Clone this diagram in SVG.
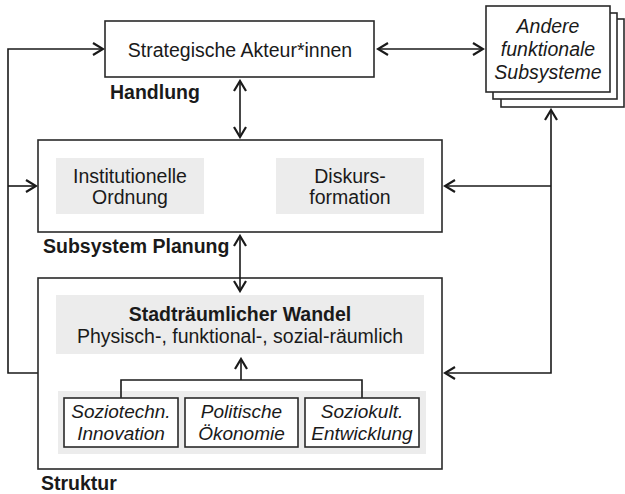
<svg xmlns="http://www.w3.org/2000/svg" width="625" height="494" viewBox="0 0 625 494">
<defs>
<style>
.box{fill:#fff;stroke:#2a2a2a;stroke-width:1.6}
.gray{fill:#ececec;stroke:none}
.t{font-family:"Liberation Sans",Arial,sans-serif;font-size:19.5px;fill:#1a1a1a}
.s{font-size:19px}
.c{text-anchor:middle}
.b{font-weight:bold}
.i{font-style:italic}
.ln{fill:none;stroke:#1a1a1a;stroke-width:1.6}
</style>
<marker id="ah" viewBox="-12 -8 14 16" refX="0" refY="0" markerWidth="14" markerHeight="16" markerUnits="userSpaceOnUse" orient="auto-start-reverse">
<path d="M -10 -6 L 0 0 L -10 6" fill="none" stroke="#1a1a1a" stroke-width="2.2"/>
</marker>
</defs>

<g id="connectors">
<path class="ln" d="M 38 373 H 8 V 49 H 103" marker-end="url(#ah)"/>
<path class="ln" d="M 8 186 H 36" marker-end="url(#ah)"/>
<path class="ln" d="M 378 49 H 483" marker-start="url(#ah)" marker-end="url(#ah)"/>
<path class="ln" d="M 240 81 V 137" marker-start="url(#ah)" marker-end="url(#ah)"/>
<path class="ln" d="M 208 186 H 272" marker-start="url(#ah)" marker-end="url(#ah)"/>
<path class="ln" d="M 551 110 V 373 H 445" marker-start="url(#ah)" marker-end="url(#ah)"/>
<path class="ln" d="M 551 186 H 445" marker-end="url(#ah)"/>
</g>

<g id="akteure">
<rect class="box" x="105" y="21" width="269" height="56"/>
<text class="t c" x="240" y="57">Strategische Akteur*innen</text>
</g>
<text class="t b" x="110" y="99">Handlung</text>

<g id="andere">
<rect class="box" x="501" y="19" width="123" height="88"/>
<rect class="box" x="493" y="13" width="124" height="86"/>
<rect class="box" x="486" y="6" width="124" height="86"/>
<text class="t c i" x="548" y="33">Andere</text>
<text class="t c i" x="548" y="56">funktionale</text>
<text class="t c i" x="548" y="79">Subsysteme</text>
</g>

<g id="planung">
<rect class="box" x="38" y="140" width="404" height="92"/>
<text class="t b" x="43" y="253">Subsystem Planung</text>
</g>
<g id="institutionelle">
<rect class="gray" x="56" y="158" width="148" height="56"/>
<text class="t c" x="130" y="183">Institutionelle</text>
<text class="t c" x="130" y="204">Ordnung</text>
</g>
<g id="diskurs">
<rect class="gray" x="276" y="158" width="148" height="56"/>
<text class="t c" x="350" y="183">Diskurs-</text>
<text class="t c" x="350" y="204">formation</text>
</g>

<g id="struktur">
<rect class="box" x="38" y="278" width="404" height="191"/>
<text class="t b" x="41" y="490">Struktur</text>
</g>
<path class="ln" d="M 240 236 V 291" marker-start="url(#ah)" marker-end="url(#ah)"/>

<g id="wandel">
<rect class="gray" x="56" y="295" width="368" height="59"/>
<text class="t c b" x="240" y="321">Stadträumlicher Wandel</text>
<text class="t c" x="240" y="343">Physisch-, funktional-, sozial-räumlich</text>
</g>

<rect class="gray" x="58" y="391" width="368" height="63"/>
<g id="bracket">
<path class="ln" d="M 121 398 V 380 H 362 V 398"/>
<path class="ln" d="M 241 380 V 359" marker-end="url(#ah)"/>
</g>

<g id="soziotechn">
<rect class="box" x="64" y="398" width="114" height="49"/>
<text class="t s c i" x="121" y="418">Soziotechn.</text>
<text class="t s c i" x="121" y="440">Innovation</text>
</g>
<g id="politische">
<rect class="box" x="185" y="398" width="113" height="49"/>
<text class="t s c i" x="241.5" y="418">Politische</text>
<text class="t s c i" x="241.5" y="440">Ökonomie</text>
</g>
<g id="soziokult">
<rect class="box" x="305" y="398" width="114" height="49"/>
<text class="t s c i" x="362" y="418">Soziokult.</text>
<text class="t s c i" x="362" y="440">Entwicklung</text>
</g>
</svg>
